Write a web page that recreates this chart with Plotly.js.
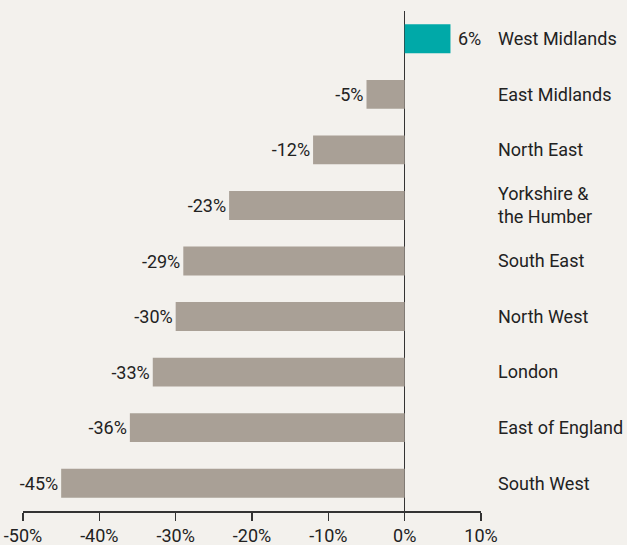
<!DOCTYPE html>
<html>
<head>
<meta charset="utf-8">
<script src="https://cdn.plot.ly/plotly-3.0.1.min.js"></script>
<style>html,body{margin:0;padding:0;background:#f3f1ed;}</style>
</head>
<body>
<div id="chart" style="width:627px;height:545px;"></div>
<script>
const regions = ["West Midlands","East Midlands","North East","Yorkshire &<br>the Humber","South East","North West","London","East of England","South West"];
const changes = [6,-5,-12,-23,-29,-30,-33,-36,-45];
const labels = ["6%","-5%","-12%","-23%","-29%","-30%","-33%","-36%","-45%"];
const tickVals = [-50,-40,-30,-20,-10,0,10];
const tickText = ["-50%","-40%","-30%","-20%","-10%","0%","10%"];

const colors = changes.map(v => v > 0 ? "#00a9a8" : "#a9a096");
const shownText = labels.map((t, i) => changes[i] > 0 ? "\u00a0" + t : t);

const FONT = "Roboto";
const FS = 18;

const trace = {
  type: "bar",
  orientation: "h",
  x: changes,
  y: regions,
  text: shownText,
  textposition: "outside",
  cliponaxis: false,
  textfont: {family: FONT, size: FS, color: "#222"},
  marker: {color: colors},
  width: 0.52,
  hoverinfo: "none"
};

const layout = {
  width: 627, height: 545,
  margin: {l: 23, r: 146, t: 11, b: 34},
  paper_bgcolor: "#f3f1ed",
  plot_bgcolor: "#f3f1ed",
  showlegend: false,
  font: {family: FONT, size: FS, color: "#222"},
  xaxis: {
    range: [-50, 10],
    tickvals: tickVals,
    ticktext: tickText,
    showgrid: false,
    zeroline: true,
    zerolinecolor: "#333",
    zerolinewidth: 1.5,
    showline: true,
    linecolor: "#333",
    linewidth: 1.5,
    ticks: "outside",
    ticklen: 8,
    tickwidth: 1.5,
    tickcolor: "#333",
    tickfont: {family: FONT, size: FS, color: "#222"}
  },
  yaxis: {
    type: "category",
    autorange: false,
    range: [8.5, -0.5],
    side: "right",
    showgrid: false,
    zeroline: false,
    showline: false,
    ticks: "",
    ticklabelstandoff: 16,
    tickfont: {family: FONT, size: FS, color: "#222"}
  }
};

Plotly.newPlot("chart", [trace], layout, {displayModeBar: false, staticPlot: true});
</script>
</body>
</html>
